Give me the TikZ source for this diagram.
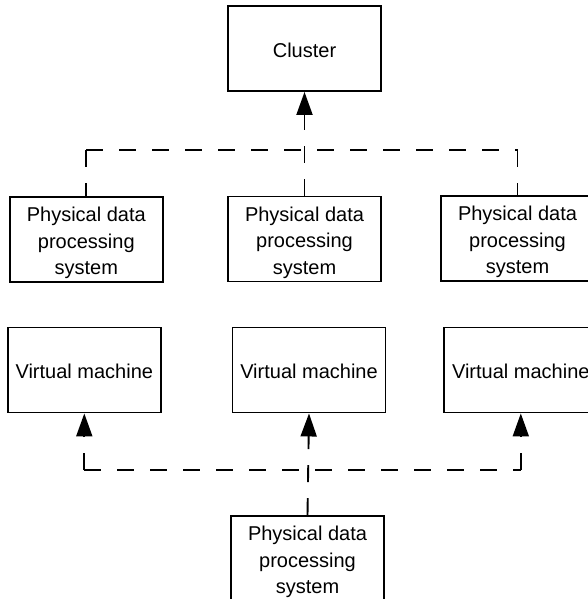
\documentclass[tikz,border=0pt]{standalone}
\usepackage{fontspec}
\setmainfont{Liberation Sans}
\usetikzlibrary{arrows.meta}
\newcommand{\liftrule}[1]{\rule{0pt}{#1}}
\begin{document}
\begin{tikzpicture}[x=1pt,y=-1pt,
  box/.style={draw, line width=1.9pt, minimum width=153pt, minimum height=85pt,
    inner sep=0pt, align=center, font=\fontsize{20}{26.5}\selectfont},
  conn/.style={line width=1.9pt, dash pattern=on 17pt off 16pt},
  tip/.style={-{Triangle[length=23pt,width=16pt]}}]
\useasboundingbox (0,0) rectangle (588,599);
% boxes
\node[box] (cl) at (304.5,48.5) {\liftrule{18.5pt}Cluster};
\node[box] (p1) at (86.3,239.5) {\liftrule{21.5pt}Physical data\\processing\\system};
\node[box] (p2) at (304.5,239) {\liftrule{21.5pt}Physical data\\processing\\system};
\node[box] (p3) at (517.5,238.5) {\liftrule{21.5pt}Physical data\\processing\\system};
\node[box] (v1) at (84.3,370) {\liftrule{18pt}Virtual machine};
\node[box] (v2) at (309,370) {\liftrule{18pt}Virtual machine};
\node[box] (v3) at (520.8,370) {\liftrule{18pt}Virtual machine};
\node[box] (pb) at (307.5,558.5) {\liftrule{21.5pt}Physical data\\processing\\system};
% hubs
\coordinate (h1) at (304.5,150);
\coordinate (h2) at (309,470);
% upper connectors
\draw[conn] (p1.north |- h1) -- (p3.north |- h1);
\draw[conn] (p1.north |- h1) -- (p1.north);
\draw[conn] (p3.north |- h1) -- (p3.north);
\draw[conn,tip] (p2.north) -- (cl.south);
% lower connectors
\draw[conn] (v1.south |- h2) -- (v3.south |- h2);
\draw[conn,tip] (v1.south |- h2) -- (v1.south);
\draw[conn,tip] (v3.south |- h2) -- (v3.south);
\draw[conn,tip] (pb.north) -- (v2.south);
\end{tikzpicture}
\end{document}
